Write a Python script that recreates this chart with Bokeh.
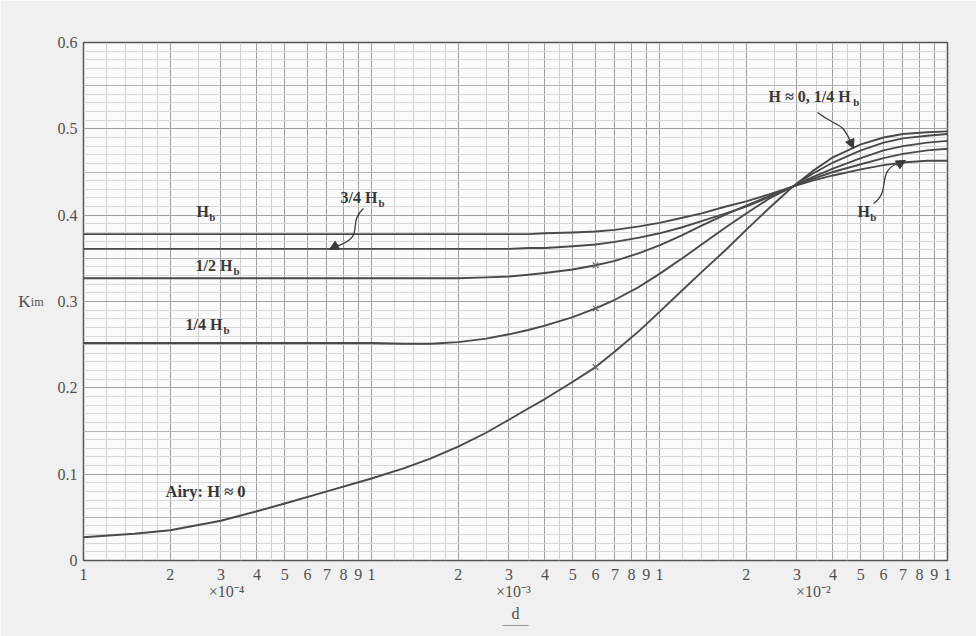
from bokeh.plotting import figure
from bokeh.models import (Range1d, FixedTicker, Grid, Label, Arrow, NormalHead, LinearAxis)
from bokeh.embed import file_html
from bokeh.resources import INLINE

# ---------------- data ----------------
d = [1e-4, 1.5e-4, 2e-4, 3e-4, 4e-4, 5e-4, 7e-4, 1e-3, 1.3e-3, 1.6e-3, 2e-3, 2.5e-3,
     3e-3, 3.5e-3, 4e-3, 5e-3, 6e-3, 7e-3, 8.5e-3, 1e-2, 1.2e-2, 1.4e-2, 1.7e-2, 2e-2,
     2.4e-2, 2.9e-2, 3.4e-2, 4e-2, 5e-2, 6e-2, 7e-2, 8.5e-2, 1e-1]

k_airy = [0.027, 0.031, 0.035, 0.046, 0.057, 0.066, 0.080, 0.095, 0.107, 0.118, 0.132, 0.148,
          0.163, 0.176, 0.187, 0.207, 0.224, 0.242, 0.266, 0.288, 0.313, 0.334, 0.360, 0.383,
          0.408, 0.433, 0.451, 0.467, 0.482, 0.490, 0.494, 0.496, 0.497]
k_q1 = [0.252, 0.252, 0.252, 0.252, 0.252, 0.252, 0.252, 0.252, 0.251, 0.251, 0.253, 0.257,
        0.262, 0.267, 0.272, 0.282, 0.292, 0.302, 0.317, 0.332, 0.350, 0.366, 0.386, 0.402,
        0.419, 0.433, 0.448, 0.461, 0.475, 0.484, 0.489, 0.492, 0.494]
k_half = [0.327, 0.327, 0.327, 0.327, 0.327, 0.327, 0.327, 0.327, 0.327, 0.327, 0.327, 0.328,
          0.329, 0.331, 0.333, 0.337, 0.342, 0.347, 0.356, 0.365, 0.377, 0.388, 0.401, 0.411,
          0.422, 0.433, 0.444, 0.454, 0.466, 0.475, 0.480, 0.484, 0.486]
k_q3 = [0.361, 0.361, 0.361, 0.361, 0.361, 0.361, 0.361, 0.361, 0.361, 0.361, 0.361, 0.361,
        0.361, 0.362, 0.362, 0.364, 0.366, 0.369, 0.374, 0.379, 0.386, 0.393, 0.402, 0.410,
        0.421, 0.433, 0.442, 0.450, 0.459, 0.466, 0.471, 0.475, 0.477]
k_hb = [0.378, 0.378, 0.378, 0.378, 0.378, 0.378, 0.378, 0.378, 0.378, 0.378, 0.378, 0.378,
        0.378, 0.378, 0.379, 0.380, 0.381, 0.383, 0.387, 0.391, 0.397, 0.402, 0.410, 0.416,
        0.424, 0.433, 0.440, 0.446, 0.453, 0.458, 0.461, 0.463, 0.463]

cross_d = [6e-3, 6e-3, 6e-3]
cross_k = [0.342, 0.292, 0.224]

x_tick_values = [round(k * 10.0 ** e, 12) for e in (-4, -3, -2) for k in range(1, 10)] + [0.1]
x_tick_labels = ["1", "2", "3", "4", "5", "6", "7", "8", "9"] * 3 + ["1"]
x_minor_mult = [1.2, 1.4, 1.6, 1.8, 2.5, 3.5, 4.5]
x_minor_values = [round(m * 10.0 ** e, 12) for e in (-4, -3, -2) for m in x_minor_mult]

y_tick_values = [0, 0.1, 0.2, 0.3, 0.4, 0.5, 0.6]
y_tick_labels = ["0", "0.1", "0.2", "0.3", "0.4", "0.5", "0.6"]
y_mid_values = [0.05, 0.15, 0.25, 0.35, 0.45, 0.55]
y_minor_values = [round(i * 0.01, 2) for i in range(61)]

decade_labels = ["\u00d710\u207b\u2074", "\u00d710\u207b\u00b3", "\u00d710\u207b\u00b2"]

# ---------------- figure ----------------
FL, FR, FT, FB = 83, 947, 42, 560  # frame edges on page (px)
W, H = 976, 636

p = figure(width=W, height=H, x_axis_type="log",
           x_range=Range1d(1e-4, 1e-1), y_range=Range1d(0, 0.6),
           output_backend="svg", toolbar_location=None,
           min_border_left=FL, min_border_right=W - FR,
           min_border_top=FT, min_border_bottom=H - FB)
p.border_fill_color = "#f0f0f0"
p.background_fill_color = "#fbfbfb"
p.outline_line_color = "#555555"
p.outline_line_width = 1.5

TXT = "#505050"
FONT = "Liberation Serif"


def plain_axis(ax):
    ax.axis_line_color = None
    ax.major_tick_line_color = None
    ax.minor_tick_line_color = None
    ax.major_tick_out = 0
    ax.minor_tick_out = 0
    ax.major_label_text_font = FONT
    ax.major_label_text_color = TXT
    ax.axis_label_text_font = FONT
    ax.axis_label_text_font_style = "normal"
    ax.axis_label_text_color = TXT


# main axes
xa = p.xaxis[0]
ya = p.yaxis[0]
xa.ticker = FixedTicker(ticks=x_tick_values, minor_ticks=x_minor_values)
xa.major_label_overrides = {t: l for t, l in zip(x_tick_values, x_tick_labels)}
ya.ticker = FixedTicker(ticks=y_tick_values, minor_ticks=y_minor_values)
ya.major_label_overrides = {t: l for t, l in zip(y_tick_values, y_tick_labels)}
for ax in (xa, ya):
    plain_axis(ax)
    ax.major_label_text_font_size = "16px"
xa.major_label_standoff = 8
ya.major_label_standoff = 6


def px_to_x(px_):
    return 1e-4 * 10 ** (3.0 * (px_ - FL) / (FR - FL))


def py_to_y(py_):
    return 0.6 * (FB - py_) / (FB - FT)


# decade multipliers (second bottom axis) with the "d" title
dec_pos = [px_to_x(v) for v in (226, 513, 813)]
xa2 = LinearAxis(ticker=FixedTicker(ticks=dec_pos))
plain_axis(xa2)
xa2.major_label_overrides = {t: l for t, l in zip(dec_pos, decade_labels)}
xa2.major_label_text_font_size = "16px"
xa2.major_label_standoff = 0
xa2.axis_label = "d"
xa2.axis_label_text_font_size = "16px"
xa2.axis_label_standoff = 2
p.add_layout(xa2, "below")

# underline of the x title
xa3 = LinearAxis(ticker=FixedTicker(ticks=[]))
plain_axis(xa3)
xa3.major_label_standoff = 0
xa3.axis_label = "\u2014\u2014"
xa3.axis_label_text_font_size = "13px"
xa3.axis_label_standoff = -9
p.add_layout(xa3, "below")

# y title K_im: subscript on the main axis, K on an outer axis
ya.axis_label = "im"
ya.axis_label_orientation = "horizontal"
ya.axis_label_text_font_size = "12px"
ya.axis_label_text_baseline = "top"
ya.axis_label_standoff = 11
ya2 = LinearAxis(ticker=FixedTicker(ticks=[]))
plain_axis(ya2)
ya2.major_label_standoff = 0
ya2.axis_label = "K"
ya2.axis_label_orientation = "horizontal"
ya2.axis_label_text_font_size = "17px"
ya2.axis_label_standoff = -3
p.add_layout(ya2, "left")

# grids
p.xgrid.grid_line_color = "#a0a0a0"
p.xgrid.minor_grid_line_color = "#d0d0d0"
p.ygrid.grid_line_color = "#a0a0a0"
p.ygrid.minor_grid_line_color = "#d8d8d8"
p.add_layout(Grid(dimension=1, ticker=FixedTicker(ticks=y_mid_values),
                  grid_line_color="#b4b4b4", grid_line_width=1))

# curves
curve_color = "#4a4a4a"
for ks in (k_airy, k_q1, k_half, k_q3, k_hb):
    p.line(d, ks, line_color=curve_color, line_width=1.9, line_join="round")
p.scatter(cross_d, cross_k, marker="x", size=8, line_color="#666666", line_width=1.2)


# ---------------- in-plot annotations ----------------
def label(px_, py_, text, size=16, bold=True, align="left", color="#383838"):
    p.add_layout(Label(x=px_to_x(px_), y=py_to_y(py_), text=text, text_font=FONT,
                       text_font_size=f"{size}px",
                       text_font_style="bold" if bold else "normal",
                       text_align=align, text_baseline="middle", text_color=color))


def hb_label(px_, py_, main, main_w):
    label(px_, py_, main)
    label(px_ + main_w, py_ + 5, "b", size=11)


EM = 16.5
hb_label(196, 211, "H", 0.778 * EM)
hb_label(340, 197, "3/4 H", 2.306 * EM)
hb_label(195, 265, "1/2 H", 2.306 * EM)
hb_label(185, 324, "1/4 H", 2.306 * EM)
label(165, 491, "Airy: H \u2248 0", size=16.5)
hb_label(768, 96, "H \u2248 0, 1/4 H", 5.133 * EM)
hb_label(857, 211, "H", 0.778 * EM)

# squiggly pointer arrows
arrow_color = "#3a3a3a"
squiggles = [
    ((363, 208), (345, 224), (368, 236), (333, 247)),
    ((817, 112), (838, 128), (842, 120), (851, 144)),
    ((873, 203), (892, 190), (874, 170), (900, 162)),
]
for s, c0, c1, e in squiggles:
    p.bezier(x0=[px_to_x(s[0])], y0=[py_to_y(s[1])], x1=[px_to_x(e[0])], y1=[py_to_y(e[1])],
             cx0=[px_to_x(c0[0])], cy0=[py_to_y(c0[1])],
             cx1=[px_to_x(c1[0])], cy1=[py_to_y(c1[1])],
             line_color=arrow_color, line_width=1.3)
heads = [((338, 244), (329, 249)), ((849, 139), (853, 148)), ((896, 165), (905, 160))]
for s, e in heads:
    p.add_layout(Arrow(x_start=px_to_x(s[0]), y_start=py_to_y(s[1]),
                       x_end=px_to_x(e[0]), y_end=py_to_y(e[1]),
                       end=NormalHead(size=9, fill_color=arrow_color, line_color=arrow_color),
                       line_color=arrow_color, line_width=1.3))

open("out.html", "w").write(file_html(p, INLINE))
